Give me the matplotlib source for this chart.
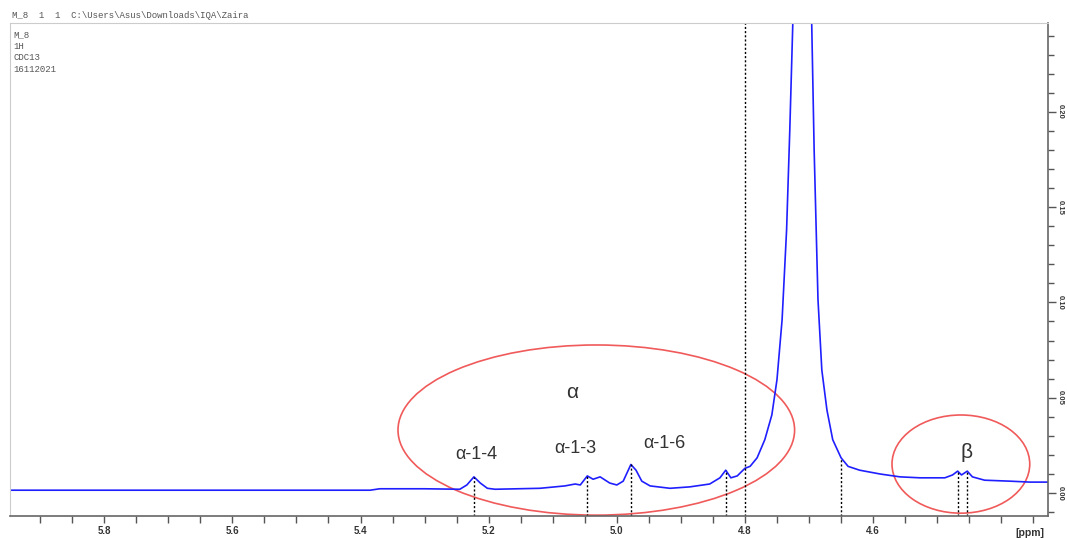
import matplotlib
matplotlib.use("Agg")
import matplotlib.pyplot as plt
from matplotlib.patches import Ellipse
from matplotlib.ticker import MultipleLocator

# === Spectrum (ppm, intensity) ===
ppm = [5.947, 5.80, 5.60, 5.385, 5.37, 5.30, 5.245, 5.234, 5.223, 5.213, 5.202, 5.190,
       5.120, 5.081, 5.065, 5.057, 5.046, 5.037, 5.026, 5.011, 5.000, 4.990, 4.978,
       4.970, 4.961, 4.948, 4.917, 4.886, 4.855, 4.839, 4.830, 4.822, 4.812, 4.800,
       4.792, 4.781, 4.769, 4.758, 4.750, 4.742, 4.735, 4.730, 4.725, 4.720, 4.712,
       4.703, 4.696, 4.692, 4.686, 4.680, 4.672, 4.663, 4.650, 4.639, 4.621, 4.589,
       4.558, 4.527, 4.488, 4.476, 4.468, 4.462, 4.453, 4.445, 4.426, 4.387, 4.355, 4.327]
intensity = [0.03, 0.03, 0.03, 0.03, 0.045, 0.045, 0.04, 0.085, 0.17, 0.105, 0.05, 0.04,
             0.05, 0.075, 0.095, 0.085, 0.18, 0.145, 0.17, 0.105, 0.085, 0.125, 0.30,
             0.24, 0.125, 0.075, 0.05, 0.065, 0.095, 0.16, 0.24, 0.16, 0.18, 0.26,
             0.28, 0.37, 0.56, 0.82, 1.19, 1.82, 2.76, 3.81, 5.0, 6.5, 9.0,
             6.5, 5.0, 3.6, 2.03, 1.29, 0.87, 0.56, 0.37, 0.28, 0.24, 0.20,
             0.17, 0.16, 0.16, 0.19, 0.23, 0.19, 0.23, 0.17, 0.135, 0.125, 0.115, 0.115]

# dotted peak markers: (ppm, intensity where the marker starts)
marker_ppm = [5.223, 5.046, 4.978, 4.830, 4.800, 4.650, 4.468, 4.453]
marker_top = [0.17, 0.18, 0.30, 0.24, 4.93, 0.37, 0.23, 0.23]

# annotations
labels = ["α-1-4", "α-1-3", "α-1-6"]
label_ppm = [5.220, 5.064, 4.926]
label_int = [0.40, 0.47, 0.525]

right_ticks = [0, 1, 2, 3, 4]
right_ticklabels = ["0.00", "0.05", "0.10", "0.15", "0.20"]

fig = plt.figure(figsize=(10.67, 5.38), dpi=100)
ax = fig.add_axes([0.0094, 0.041, 0.9728, 0.916])

ax.plot(ppm, intensity, color="#1f1fff", lw=1.2)

ymin, ymax = -0.24, 4.93
for p, t in zip(marker_ppm, marker_top):
    ax.plot([p, p], [ymin, t], color="black", ls=(0, (1.5, 1.5)), lw=1.0)

# red ellipses
ax.add_patch(Ellipse((5.032, 0.661), 0.619, 1.785, fill=False, ec="#f05a5a", lw=1.2, clip_on=False))
ax.add_patch(Ellipse((4.463, 0.304), 0.215, 1.03, fill=False, ec="#f05a5a", lw=1.2, clip_on=False))

tfont = dict(family=["Liberation Sans", "DejaVu Sans"], color="#333333", ha="center", va="center")
ax.text(5.070, 1.05, "α", fontsize=15, **tfont)
ax.text(4.454, 0.43, "β", fontsize=15, **tfont)
for lab, x, y in zip(labels, label_ppm, label_int):
    ax.text(x, y, lab, fontsize=13, **tfont)

ax.set_xlim(5.947, 4.327)
ax.set_ylim(ymin, ymax)

ax.set_xticks([5.8, 5.6, 5.4, 5.2, 5.0, 4.8, 4.6])
ax.set_xticklabels(["5.8", "5.6", "5.4", "5.2", "5.0", "4.8", "4.6"],
                   fontsize=7, fontweight="bold", color="#333333", family="Liberation Sans")
ax.xaxis.set_minor_locator(MultipleLocator(0.05))
ax.tick_params(axis="x", which="both", direction="out", length=5, color="#555555", width=1, pad=2)
ax.text(4.355, -0.42, "[ppm]", fontsize=7.5, fontweight="bold", color="#333333",
        family="Liberation Sans", ha="center", va="center", clip_on=False)

ax.yaxis.tick_right()
ax.set_yticks(right_ticks)
ax.set_yticklabels(right_ticklabels, rotation=-90, va="center", fontsize=5.5,
                   fontweight="bold", color="#333333", family="Liberation Sans")
ax.yaxis.set_minor_locator(MultipleLocator(0.2))
ax.tick_params(axis="y", which="major", direction="out", length=6, color="#555555", width=1, pad=0.5)
ax.tick_params(axis="y", which="minor", direction="out", length=4, color="#555555", width=1)

for side in ["top", "left"]:
    ax.spines[side].set_color("#cccccc")
for side in ["bottom", "right"]:
    ax.spines[side].set_color("#666666")
    ax.spines[side].set_linewidth(1.2)

# header texts
fig.text(12 / 1067, 1 - 15 / 538, "M_8  1  1  C:\\Users\\Asus\\Downloads\\IQA\\Zaira",
         fontsize=6.5, family="Liberation Mono", color="#555555", va="center")
ax.text(0.003, 0.985, "M_8\n1H\nCDC13\n16112021", transform=ax.transAxes,
        fontsize=6.5, family="Liberation Mono", color="#555555", va="top", linespacing=1.35)

fig.savefig("out.png", dpi=100)
